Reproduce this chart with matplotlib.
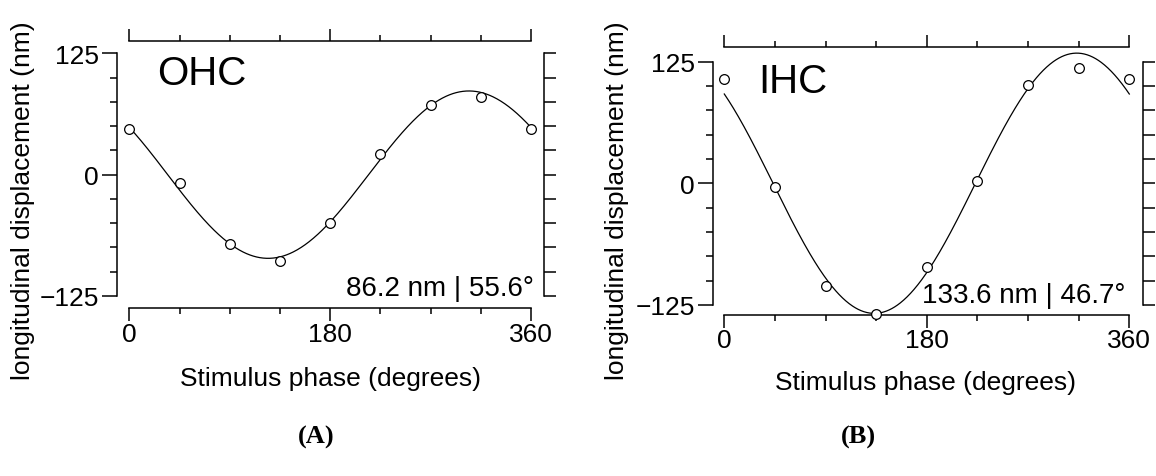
import numpy as np
import matplotlib.pyplot as plt

plt.rcParams["font.family"] = ["Liberation Sans", "DejaVu Sans"]

# measured points (stimulus phase in degrees, displacement in nm)
phase_deg = [0, 45, 90, 135, 180, 225, 270, 315, 360]
ohc_disp = [47, -9, -71, -89, -50, 21, 72, 80, 47]
ihc_disp = [107, -4, -105, -134, -86, 2, 101, 118, 107]

# sinusoid fits: amplitude (nm), phase (deg)
ohc_amp, ohc_phase = 86.2, 55.6
ihc_amp, ihc_phase = 133.6, 46.7

W, H = 1156, 477
DPI = 100


def pt(px):
    return px * 72.0 / DPI


fig = plt.figure(figsize=(W / DPI, H / DPI), dpi=DPI)


def panel(box, offs, ys, amp, ph, name, name_xy, note, note_xy,
          ylab_xy, xlab_xy, letter, letter_xy):
    l, t, r, b = box
    offL, offB, offT, offR = offs
    ax = fig.add_axes([l / W, 1 - b / H, (r - l) / W, (b - t) / H])
    ax.patch.set_alpha(0)

    xx = np.linspace(0, 360, 721)
    ax.plot(xx, amp * np.cos(np.radians(xx + ph)), color="black", lw=0.9,
            clip_on=False, zorder=2)
    ax.plot(phase_deg, ys, "o", mfc="white", mec="black", ms=7, mew=0.9,
            clip_on=False, zorder=3)

    ax.set_xlim(0, 360)
    ax.set_ylim(-125, 125)
    for s in ("top", "right"):
        ax.spines[s].set_visible(False)
    ax.spines["left"].set_position(("outward", pt(offL)))
    ax.spines["bottom"].set_position(("outward", pt(offB)))
    for s in ("left", "bottom"):
        ax.spines[s].set_linewidth(1.1)

    ax.set_xticks([0, 180, 360])
    ax.set_xticks(np.arange(0, 361, 45), minor=True)
    ax.set_yticks([-125, 0, 125])
    ax.set_yticks(np.arange(-125, 126, 25), minor=True)
    ax.tick_params(axis="x", which="major", length=pt(13), width=1.1,
                   pad=pt(1), labelsize=19)
    ax.tick_params(axis="x", which="minor", length=pt(6), width=1.1)
    ax.tick_params(axis="y", which="major", length=pt(15), width=1.1,
                   pad=pt(3), labelsize=19)
    ax.tick_params(axis="y", which="minor", length=pt(7), width=1.1)

    # detached top and right axes
    sx = ax.secondary_xaxis(1 + offT / (b - t))
    sx.set_xticks([0, 180, 360])
    sx.set_xticks(np.arange(0, 361, 45), minor=True)
    sx.set_xticklabels([])
    sx.tick_params(which="major", length=pt(12), width=1.1)
    sx.tick_params(which="minor", length=pt(6), width=1.1)
    sx.spines["top"].set_linewidth(1.1)

    sy = ax.secondary_yaxis(1 + offR / (r - l))
    sy.set_yticks(np.arange(-125, 126, 25))
    sy.set_yticklabels([])
    sy.tick_params(length=pt(12), width=1.1)
    sy.spines["right"].set_linewidth(1.1)

    ax.text(name_xy[0], name_xy[1], name, transform=ax.transAxes,
            fontsize=29, ha="left", va="baseline")
    ax.text(note_xy[0], note_xy[1], note, transform=ax.transAxes,
            fontsize=20, ha="right", va="baseline")

    fig.text(ylab_xy[0] / W, 1 - ylab_xy[1] / H,
             "longitudinal displacement (nm)", rotation=90,
             ha="center", va="center", fontsize=19)
    fig.text(xlab_xy[0] / W, 1 - xlab_xy[1] / H, "Stimulus phase (degrees)",
             ha="center", va="center", fontsize=19)
    fig.text(letter_xy[0] / W, 1 - letter_xy[1] / H, letter,
             ha="center", va="center", fontsize=19, fontweight="bold",
             family=["Liberation Serif", "DejaVu Serif"])
    return ax


panel((129.3, 54.3, 531, 297), (12.5, 12, 12.6, 12.6), ohc_disp,
      ohc_amp, ohc_phase, "OHC", (0.069, 0.873),
      "86.2 nm | 55.6\u00b0", (1.008, 0.005),
      (23, 201), (330, 379), "(A)", (316, 437))

panel((724.3, 62.5, 1129.3, 306), (11.3, 9.5, 14.5, 13.7), ihc_disp,
      ihc_amp, ihc_phase, "IHC", (0.083, 0.875),
      "133.6 nm | 46.7\u00b0", (0.991, 0.012),
      (617, 201), (926, 383), "(B)", (858, 437))

fig.savefig("out.png", dpi=DPI)
